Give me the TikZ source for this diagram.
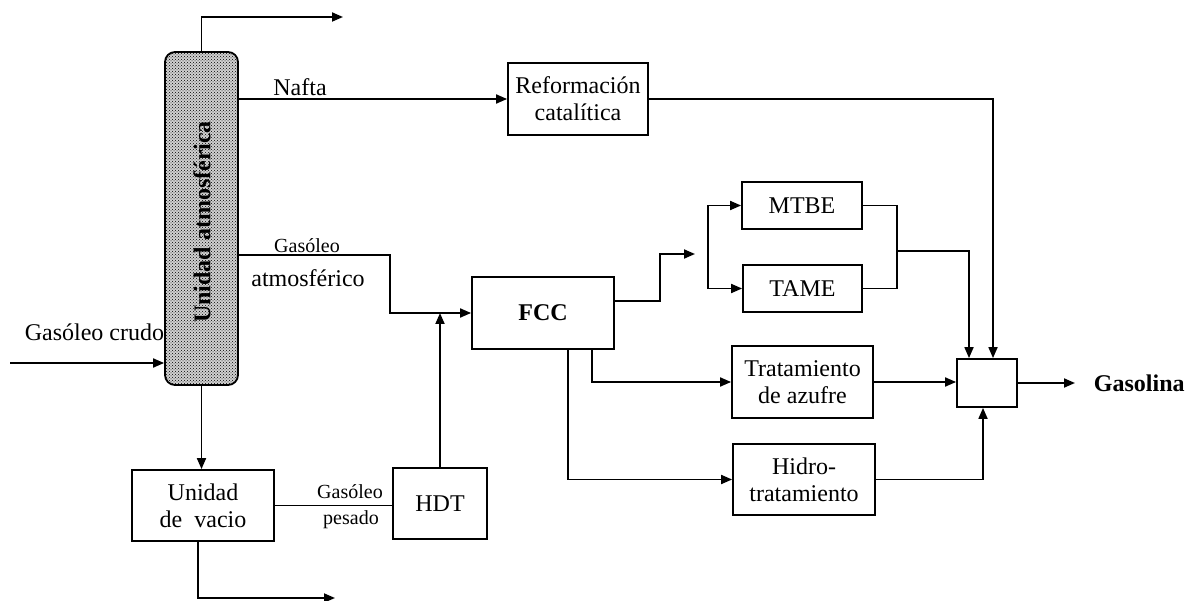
\documentclass[tikz,border=0pt]{standalone}
\usepackage{fontspec}
\setmainfont{Liberation Serif}
\usetikzlibrary{arrows.meta,patterns}
\begin{document}
\begin{tikzpicture}[x=1pt,y=-1pt,
  line width=1.8pt,
  arr/.style={-{Triangle[length=11pt,width=9pt]}},
  box/.style={draw, line width=1.8pt, align=center, inner sep=0pt,
    font=\fontsize{24}{27}\selectfont},
  lbl/.style={inner sep=0pt, font=\fontsize{24}{27}\selectfont},
  slbl/.style={inner sep=0pt, font=\fontsize{20}{22}\selectfont}
]
\useasboundingbox (0,0) rectangle (1185,601);
% column
\node[draw, line width=1.8pt, rounded corners=10pt, preaction={fill=black!18},
  pattern=crosshatch dots, minimum width=73pt, minimum height=333pt] (col) at (201.5,218.5) {};
\node[lbl, rotate=90, font=\fontsize{24}{27}\selectfont\bfseries] (coltxt) at (202,222) {Unidad atmosférica};
% boxes
\node[box, minimum width=140pt, minimum height=72pt] (ref) at (578,99) {Reformación\\catalítica};
\node[box, minimum width=142pt, minimum height=72pt, font=\fontsize{24}{27}\selectfont\bfseries] (fcc) at (543,313) {FCC};
\node[box, minimum width=120pt, minimum height=47pt] (mtbe) at (802,205.5) {MTBE};
\node[box, minimum width=119pt, minimum height=47pt] (tame) at (802.5,288.5) {TAME};
\node[box, minimum width=141pt, minimum height=72pt] (trat) at (802.5,382) {Tratamiento\\de azufre};
\node[box, minimum width=142pt, minimum height=71pt] (hidro) at (804,479.5) {Hidro-\\tratamiento};
\node[box, minimum width=60pt, minimum height=48pt] (mix) at (987,383) {};
\node[box, minimum width=142pt, minimum height=71pt] (uv) at (203,505.5) {Unidad\\de~~vacio};
\node[box, minimum width=94pt, minimum height=71pt] (hdt) at (440,503.5) {HDT};
\node[lbl, anchor=west, font=\fontsize{24}{27}\selectfont\bfseries] (gas) at (1093,383) {Gasolina};
% labels
\node[lbl] (lnafta) at (300,87) {Nafta};
\node[slbl] (lga1) at (307,246) {Gasóleo};
\node[lbl] (lga2) at (308,278) {atmosférico};
\node[lbl, anchor=east] (lcrudo) at (165,332) {Gasóleo crudo};
\node[slbl] (lgp1) at (350,492) {Gasóleo};
\node[slbl] (lgp2) at (351,520) {pesado};
% coordinates
\coordinate (topout) at (343,17);
\coordinate (ga) at (390,255);
\coordinate (crin) at (10,363);
\coordinate (vout) at (335,598);
\coordinate (ft) at (695,254);
\coordinate (sp) at (708,247);
\coordinate (mg) at (897,251);
% connectors
\draw[arr] (col.north) |- (topout);
\draw[arr] (col.east |- ref.west) -- (ref.west);
\draw[arr] (ref.east) -| ([xshift=6pt]mix.north);
\draw[arr] (col.east |- ga) -- (ga) |- (fcc.west);
\draw[arr] (hdt.north) -- (hdt.north |- fcc.west);
\draw[arr] (crin) -- (col.west |- crin);
\draw[arr] (col.south) -- (col.south |- uv.north);
\draw[arr] ([xshift=-5pt]uv.south) |- (vout);
\draw (uv.east) -- (uv.east -| hdt.west);
\draw[arr] (fcc.east |- 0,301) -- (660,301) |- (ft);
\draw[arr] (sp |- tame.west) |- (mtbe.west);
\draw[arr] (sp |- mtbe.west) |- (tame.west);
\draw (mtbe.east) -| (mg);
\draw (tame.east) -| (mg);
\draw[arr] (mg) -| ([xshift=-18pt]mix.north);
\draw[arr] ([xshift=49pt]fcc.south) |- (trat.west);
\draw[arr] ([xshift=25pt]fcc.south) |- (hidro.west);
\draw[arr] (trat.east) -- (trat.east -| mix.west);
\draw[arr] (hidro.east) -| ([xshift=-4pt]mix.south);
\draw[arr] (mix.east) -- ([xshift=-18pt]gas.west);
\end{tikzpicture}
\end{document}
